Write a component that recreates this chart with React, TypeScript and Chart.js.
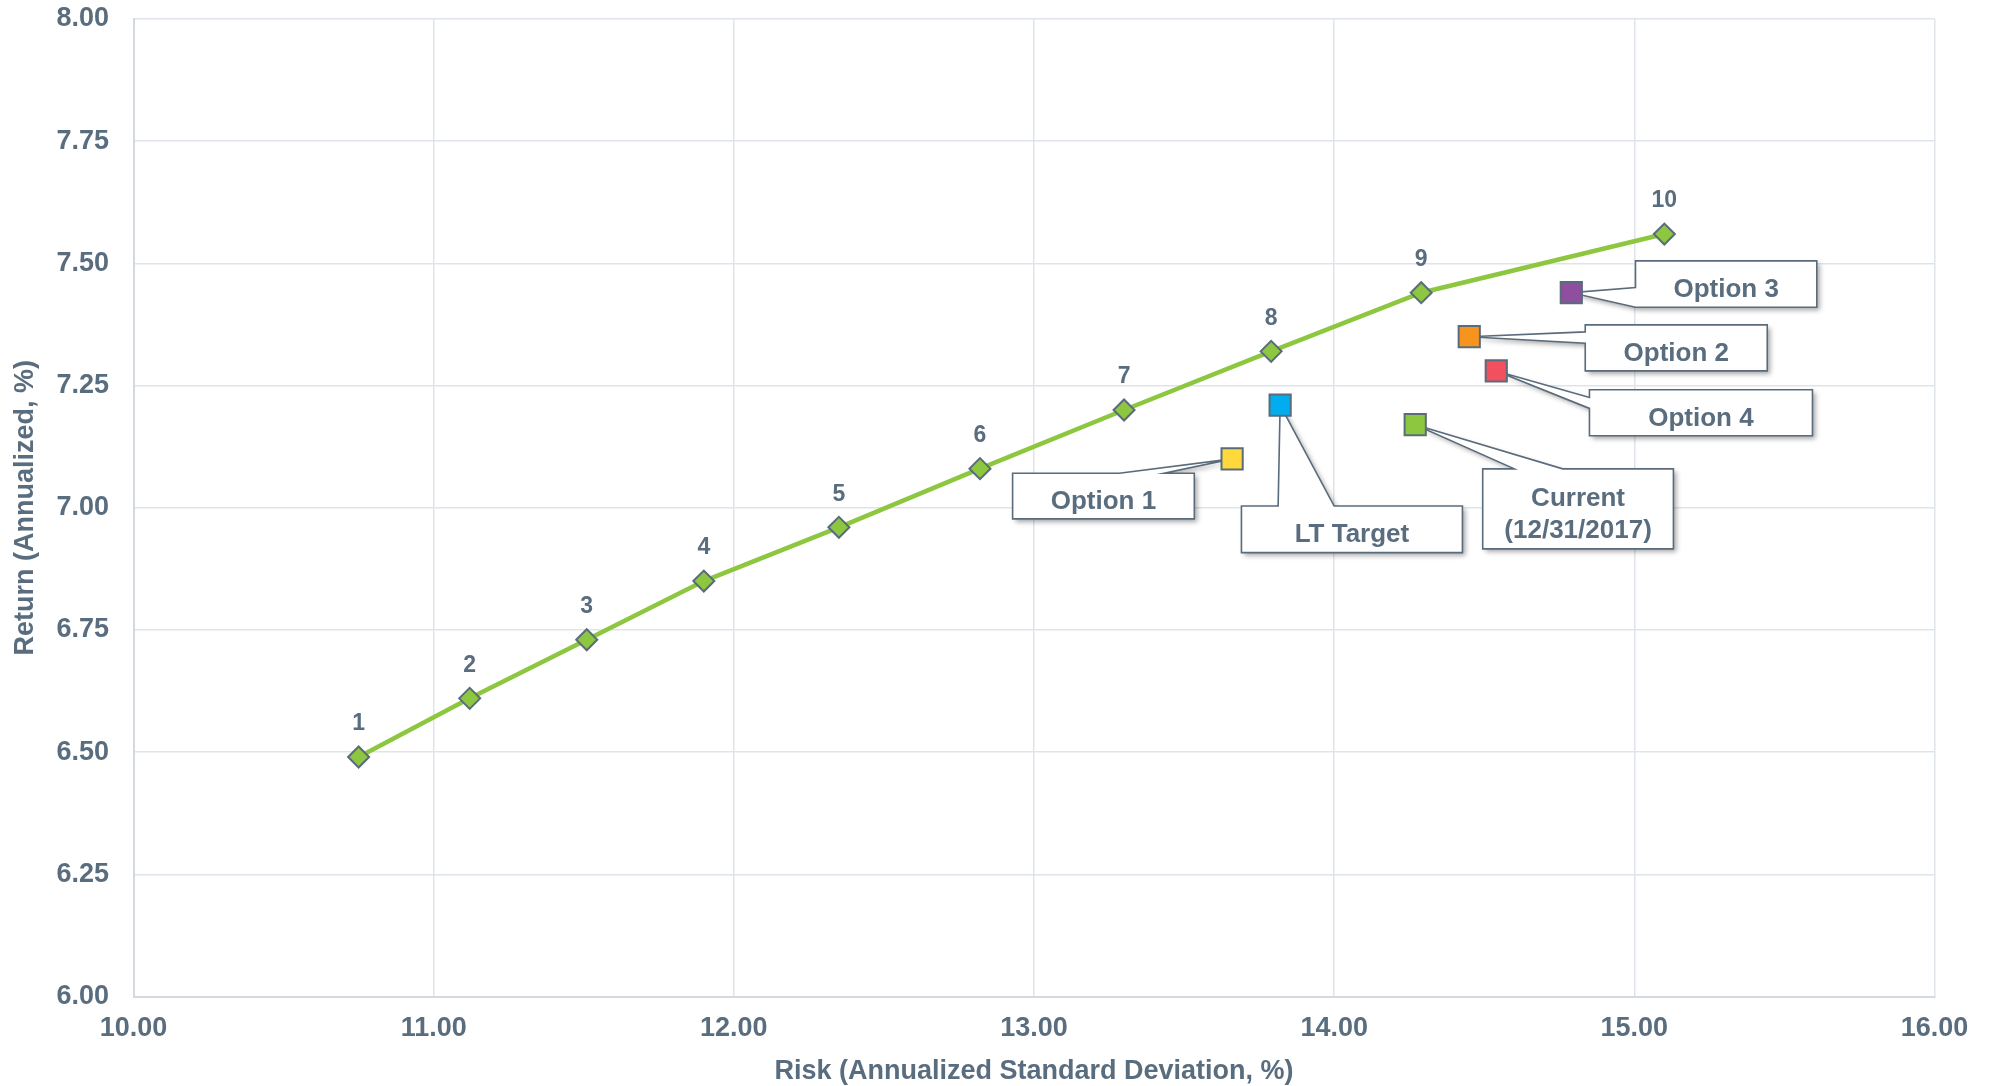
import React, { useEffect, useRef } from "react";
import { Chart, registerables } from "chart.js";

Chart.register(...registerables);

// Efficient frontier portfolios 1..10
const frontierLabels = ["1", "2", "3", "4", "5", "6", "7", "8", "9", "10"];
const frontierRisk = [10.75, 11.12, 11.51, 11.9, 12.35, 12.82, 13.3, 13.79, 14.29, 15.1];
const frontierReturn = [6.49, 6.61, 6.73, 6.85, 6.96, 7.08, 7.2, 7.32, 7.44, 7.56];

// Portfolio options
const optionNames = ["Option 1", "LT Target", "Current\n(12/31/2017)", "Option 4", "Option 2", "Option 3"];
const optionRisk = [13.66, 13.82, 14.27, 14.54, 14.45, 14.79];
const optionReturn = [7.1, 7.21, 7.17, 7.28, 7.35, 7.44];
const optionColors = ["#FFD93B", "#00AEEF", "#8DC63F", "#F2505F", "#F7941D", "#8E4F9E"];

// Axis ticks
const xTicks = [10, 11, 12, 13, 14, 15, 16];
const yTicks = [6.0, 6.25, 6.5, 6.75, 7.0, 7.25, 7.5, 7.75, 8.0];

// Callout box layout (pixel offsets relative to the marker)
const calloutLayout = [
  { dx: -219.5, dy: 14.3, w: 181.7, h: 45.7, edge: "top", a: 106.7, b: 151.7 },
  { dx: -38.7, dy: 100.9, w: 221, h: 46.6, edge: "top", a: 36.7, b: 92.7 },
  { dx: 67.5, dy: 44.2, w: 190.7, h: 80, edge: "top", a: 31.7, b: 80 },
  { dx: 93.2, dy: 18.9, w: 223, h: 46, edge: "left", a: 7.6, b: 18.6 },
  { dx: 116, dy: -11.8, w: 182, h: 46, edge: "left", a: 7, b: 18.3 },
  { dx: 64.2, dy: -31.8, w: 181.3, h: 46.3, edge: "left", a: 26.6, b: 46.3 },
];

const TEXT = "#596d7f";
const SLATE = "#5a6b7c";
const GREEN = "#8DC63F";
const FONT = "'Liberation Sans', Arial, sans-serif";

const annotationPlugin = {
  id: "annot",
  beforeDatasetsDraw(chart: any) {
    const ctx = chart.ctx;
    const meta = chart.getDatasetMeta(1);
    meta.data.forEach((pt: any, i: number) => {
      const L = calloutLayout[i];
      const mx = pt.x;
      const my = pt.y;
      const left = mx + L.dx;
      const top = my + L.dy;
      ctx.save();
      ctx.beginPath();
      if (L.edge === "left") {
        ctx.moveTo(left, top);
        ctx.lineTo(left + L.w, top);
        ctx.lineTo(left + L.w, top + L.h);
        ctx.lineTo(left, top + L.h);
        ctx.lineTo(left, top + L.b);
        ctx.lineTo(mx, my);
        ctx.lineTo(left, top + L.a);
        ctx.closePath();
      } else {
        ctx.moveTo(left, top);
        ctx.lineTo(left + L.a, top);
        ctx.lineTo(mx, my);
        ctx.lineTo(left + L.b, top);
        ctx.lineTo(left + L.w, top);
        ctx.lineTo(left + L.w, top + L.h);
        ctx.lineTo(left, top + L.h);
        ctx.closePath();
      }
      ctx.shadowColor = "rgba(0,0,0,0.35)";
      ctx.shadowBlur = 5;
      ctx.shadowOffsetX = 3;
      ctx.shadowOffsetY = 3;
      ctx.fillStyle = "#ffffff";
      ctx.fill();
      ctx.shadowColor = "rgba(0,0,0,0)";
      ctx.lineWidth = 1.6;
      ctx.strokeStyle = SLATE;
      ctx.lineJoin = "miter";
      ctx.stroke();
      ctx.fillStyle = TEXT;
      ctx.font = `bold 26px ${FONT}`;
      ctx.textAlign = "center";
      ctx.textBaseline = "middle";
      const lines = optionNames[i].split("\n");
      const lh = 32;
      const cx = left + L.w / 2;
      const cy = top + L.h / 2 + 6;
      lines.forEach((ln, k) => {
        ctx.fillText(ln, cx, cy + (k - (lines.length - 1) / 2) * lh);
      });
      ctx.restore();
    });
  },
  afterDatasetsDraw(chart: any) {
    const ctx = chart.ctx;
    const meta = chart.getDatasetMeta(0);
    ctx.save();
    ctx.fillStyle = TEXT;
    ctx.font = `bold 23px ${FONT}`;
    ctx.textAlign = "center";
    ctx.textBaseline = "middle";
    meta.data.forEach((pt: any, i: number) => {
      ctx.fillText(frontierLabels[i], pt.x, pt.y - 33);
    });
    ctx.restore();
  },
};

export default function App() {
  const ref = useRef<HTMLCanvasElement | null>(null);
  useEffect(() => {
    if (!ref.current) return;
    const chart = new Chart(ref.current, {
      type: "scatter",
      data: {
        datasets: [
          {
            label: "Frontier",
            data: frontierRisk.map((x, i) => ({ x, y: frontierReturn[i] })),
            showLine: true,
            borderColor: GREEN,
            borderWidth: 4.5,
            pointStyle: "rectRot",
            pointRadius: 10.5,
            pointBackgroundColor: GREEN,
            pointBorderColor: SLATE,
            pointBorderWidth: 2,
            order: 2,
          },
          {
            label: "Options",
            data: optionRisk.map((x, i) => ({ x, y: optionReturn[i] })),
            showLine: false,
            pointStyle: "rect",
            pointRadius: 15,
            pointBackgroundColor: optionColors,
            pointBorderColor: SLATE,
            pointBorderWidth: 2,
            order: 1,
          },
        ],
      },
      options: {
        responsive: false,
        animation: false,
        devicePixelRatio: 1,
        layout: { padding: { top: 19, right: 58.5, left: 0, bottom: 0 } },
        plugins: { legend: { display: false }, tooltip: { enabled: false } },
        scales: {
          x: {
            type: "linear",
            min: xTicks[0],
            max: xTicks[xTicks.length - 1],
            afterBuildTicks: (s: any) => {
              s.ticks = xTicks.map((v) => ({ value: v }));
            },
            afterFit: (s: any) => {
              s.height = 89.5;
              s.paddingLeft = 0;
              s.paddingRight = 0;
            },
            grid: { color: "#dfe4ea", lineWidth: 1.5, drawTicks: false },
            border: { color: "#d3d9df", width: 2 },
            ticks: {
              padding: 16,
              color: TEXT,
              font: { family: FONT, size: 27, weight: "bold" },
              callback: (v: any) => Number(v).toFixed(2),
            },
            title: {
              display: true,
              text: "Risk (Annualized Standard Deviation, %)",
              color: TEXT,
              font: { family: FONT, size: 27, weight: "bold", lineHeight: 1 },
              padding: { top: 0, bottom: 1 },
            },
          },
          y: {
            type: "linear",
            min: yTicks[0],
            max: yTicks[yTicks.length - 1],
            afterBuildTicks: (s: any) => {
              s.ticks = yTicks.map((v) => ({ value: v }));
            },
            afterFit: (s: any) => {
              s.width = 133.5;
              s.paddingTop = 0;
              s.paddingBottom = 0;
            },
            grid: { color: "#dfe4ea", lineWidth: 1.5, drawTicks: false },
            border: { color: "#d3d9df", width: 2 },
            ticks: {
              padding: 24.5,
              color: TEXT,
              font: { family: FONT, size: 27, weight: "bold" },
              callback: (v: any) => Number(v).toFixed(2),
            },
            title: {
              display: true,
              text: "Return (Annualized, %)",
              color: TEXT,
              font: { family: FONT, size: 27, weight: "bold", lineHeight: 1 },
              padding: { top: 12, bottom: 0 },
            },
          },
        },
      },
      plugins: [annotationPlugin],
    } as any);
    return () => chart.destroy();
  }, []);
  return (
    <div style={{ position: "absolute", left: 0, top: 0, width: 1993, height: 1086, background: "#fff" }}>
      <canvas ref={ref} width={1993} height={1086} style={{ width: 1993, height: 1086, display: "block" }} />
    </div>
  );
}
